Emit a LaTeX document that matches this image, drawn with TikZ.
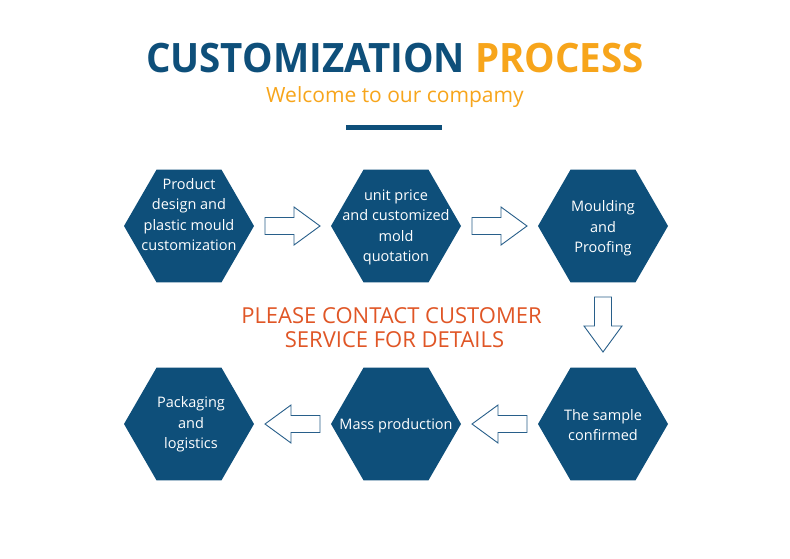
\documentclass[tikz,border=0pt]{standalone}
\usepackage{fontspec}
\setmainfont{Open Sans}
\usetikzlibrary{shapes.geometric}
\definecolor{hexblue}{RGB}{14,79,122}
\definecolor{titleblue}{RGB}{14,79,122}
\definecolor{orng}{RGB}{247,165,27}
\definecolor{redtxt}{RGB}{224,86,38}
\definecolor{arrowline}{RGB}{40,95,138}
\tikzset{
  hexa/.style={regular polygon, regular polygon sides=6, minimum size=130pt, inner sep=0pt, outer sep=0pt, fill=hexblue, draw=none},
  hextext/.style={text=white, align=center, font=\fontsize{14.5}{20.5}\selectfont, inner sep=0pt},
  blockarrow/.pic={\draw[draw=arrowline, fill=white, line width=0.9pt, line join=miter]
     (-27.5,-8.5) -- (1.5,-8.5) -- (1.5,-19) -- (27.5,0) -- (1.5,19) -- (1.5,8.5) -- (-27.5,8.5) -- cycle;}
}
\begin{document}
\begin{tikzpicture}[x=1pt,y=-1pt]
\useasboundingbox[fill=white] (0,0) rectangle (790,558);
% title
\node[anchor=base, inner sep=0pt, xscale=0.95, font=\fontsize{40.5}{48}\selectfont\bfseries] (title) at (395,72)
  {\textcolor{titleblue}{CUSTOMIZATION} \textcolor{orng}{PROCESS}};
\node[anchor=base, inner sep=0pt, text=orng, font=\fontsize{21}{25}\selectfont] (sub) at (395,102) {Welcome to our compamy};
\fill[titleblue] (346,125) rectangle (442,130);
% hexagons
\node[hexa] (h1) at (189,226) {};
\node[hexa] (h2) at (396,226) {};
\node[hexa] (h3) at (603,226) {};
\node[hexa] (h4) at (603,424) {};
\node[hexa] (h5) at (396,424) {};
\node[hexa] (h6) at (189,424) {};
\node[hextext] (t1) at (189,214.5) {Product\\design and\\plastic mould\\customization};
\node[hextext] (t2) at (396,227.5) {unit price\\and customized\\mold\\quotation};
\node[hextext] (t3) at (603,228.5) {Moulding\\and\\Proofing};
\node[hextext] (t4) at (603,425) {The sample\\confirmed};
\node[hextext] (t5) at (396,426) {Mass production};
\node[hextext] (t6) at (191,424.5) {Packaging\\and\\logistics};
% block arrows
\coordinate (a12) at (292.5,226);
\coordinate (a23) at (499.5,226);
\coordinate (a34) at (603,324.5);
\coordinate (a45) at (499.5,424);
\coordinate (a56) at (292.5,424);
\pic at (a12) {blockarrow};
\pic at (a23) {blockarrow};
\pic[rotate=-90] at (a34) {blockarrow};
\pic[rotate=180] at (a45) {blockarrow};
\pic[rotate=180] at (a56) {blockarrow};
% contact text
\node[anchor=base, inner sep=0pt, text=redtxt, font=\fontsize{22}{26}\selectfont] (c1) at (391.5,323) {PLEASE CONTACT CUSTOMER};
\node[anchor=base, inner sep=0pt, text=redtxt, font=\fontsize{22}{26}\selectfont] (c2) at (394.5,347) {SERVICE FOR DETAILS};
\end{tikzpicture}
\end{document}
